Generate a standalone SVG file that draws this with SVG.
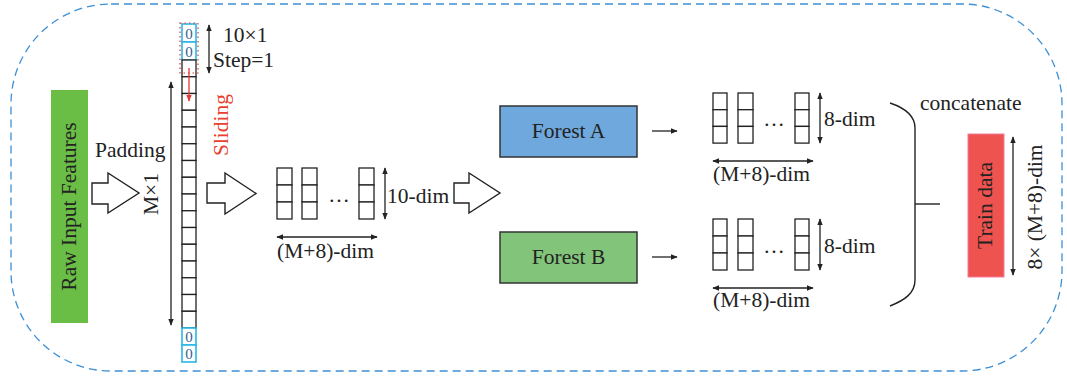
<svg xmlns="http://www.w3.org/2000/svg" width="1067" height="377" viewBox="0 0 1067 377">
<defs>
<marker id="ah" viewBox="0 0 10 10" refX="9" refY="5" markerWidth="7" markerHeight="7" orient="auto-start-reverse" markerUnits="userSpaceOnUse"><path d="M0,1 L10,5 L0,9 z" fill="#222"/></marker>
<marker id="ahr" viewBox="0 0 10 10" refX="9" refY="5" markerWidth="7" markerHeight="7" orient="auto" markerUnits="userSpaceOnUse"><path d="M0,1 L10,5 L0,9 z" fill="#e53935"/></marker>
<style>
text{font-family:"Liberation Serif","Times New Roman",serif;fill:#222;font-size:21.5px}
.cell{fill:#fff;stroke:#222;stroke-width:1.3}
.zcell{fill:#fff;stroke:#29b6e8;stroke-width:1.6}
.zero{font-size:15px;fill:#2f5f8f;text-anchor:middle}
.dim{stroke:#222;stroke-width:1.3;fill:none;marker-start:url(#ah);marker-end:url(#ah)}
.blk{fill:#fff;stroke:#222;stroke-width:1.4}
.box{stroke:#333;stroke-width:1.5}
</style>
</defs>
<rect x="11" y="4" width="1051" height="367" rx="100" ry="100" fill="none" stroke="#3d8fd6" stroke-width="1.3" stroke-dasharray="8 5"/>

<g id="raw-input">
<rect x="51" y="90" width="37" height="233" fill="#6abd45"/>
<text transform="translate(76,206.5) rotate(-90)" text-anchor="middle">Raw Input Features</text>
</g>

<g id="padding">
<text x="95" y="157">Padding</text>
<polygon class="blk" points="92,183 108,183 108,173 139,193 108,213 108,204 92,204"/>
</g>

<g id="column">
<rect class="zcell" x="182" y="24" width="14" height="18"/>
<rect class="zcell" x="182" y="42" width="14" height="18"/>
<text class="zero" x="189" y="38.5">0</text>
<text class="zero" x="189" y="56.5">0</text>
<rect class="cell" x="182" y="60" width="14" height="16.75"/>
<rect class="cell" x="182" y="76.75" width="14" height="16.75"/>
<rect class="cell" x="182" y="93.5" width="14" height="16.75"/>
<rect class="cell" x="182" y="110.25" width="14" height="16.75"/>
<rect class="cell" x="182" y="127" width="14" height="16.75"/>
<rect class="cell" x="182" y="143.75" width="14" height="16.75"/>
<rect class="cell" x="182" y="160.5" width="14" height="16.75"/>
<rect class="cell" x="182" y="177.25" width="14" height="16.75"/>
<rect class="cell" x="182" y="194" width="14" height="16.75"/>
<rect class="cell" x="182" y="210.75" width="14" height="16.75"/>
<rect class="cell" x="182" y="227.5" width="14" height="16.75"/>
<rect class="cell" x="182" y="244.25" width="14" height="16.75"/>
<rect class="cell" x="182" y="261" width="14" height="16.75"/>
<rect class="cell" x="182" y="277.75" width="14" height="16.75"/>
<rect class="cell" x="182" y="294.5" width="14" height="16.75"/>
<rect class="cell" x="182" y="311.25" width="14" height="16.75"/>
<rect class="zcell" x="182" y="328" width="14" height="17"/>
<rect class="zcell" x="182" y="345" width="14" height="17"/>
<text class="zero" x="189" y="342">0</text>
<text class="zero" x="189" y="359">0</text>
<rect x="180" y="23" width="18" height="50" fill="none" stroke="#e53935" stroke-width="1.2" stroke-dasharray="1.5 3"/>
<line x1="189" y1="68" x2="189" y2="101" stroke="#e53935" stroke-width="1.3" marker-end="url(#ahr)"/>
<line class="dim" x1="171" y1="82" x2="171" y2="325"/>
<text transform="translate(158,194) rotate(-90)" text-anchor="middle">M×1</text>
<line class="dim" x1="209" y1="25" x2="209" y2="73"/>
<text x="223" y="42">10×1</text>
<text x="213" y="67">Step=1</text>
<text transform="translate(228,125) rotate(-90)" text-anchor="middle" style="fill:#e8402e">Sliding</text>
</g>

<g id="window-matrix">
<polygon class="blk" points="207,183 225,183 225,173 256,193.5 225,214 225,203 207,203"/>
<rect class="cell" x="277" y="168" width="15" height="17"/>
<rect class="cell" x="277" y="185" width="15" height="17"/>
<rect class="cell" x="277" y="202" width="15" height="17"/>
<rect class="cell" x="302" y="168" width="15" height="17"/>
<rect class="cell" x="302" y="185" width="15" height="17"/>
<rect class="cell" x="302" y="202" width="15" height="17"/>
<rect class="cell" x="359" y="168" width="15" height="17"/>
<rect class="cell" x="359" y="185" width="15" height="17"/>
<rect class="cell" x="359" y="202" width="15" height="17"/>
<text x="339" y="202" text-anchor="middle">…</text>
<line class="dim" x1="385" y1="168" x2="385" y2="219"/>
<text x="387" y="203">10-dim</text>
<line class="dim" x1="277" y1="237" x2="377" y2="237"/>
<text x="277" y="258">(M+8)-dim</text>
<polygon class="blk" points="454,183 469,183 469,173 500,193 469,213 469,203 454,203"/>
</g>

<g id="forest-a">
<rect class="box" x="500" y="106" width="137" height="51" fill="#6fa8dc"/>
<text x="568.5" y="138" text-anchor="middle">Forest A</text>
</g>
<g id="forest-b">
<rect class="box" x="500" y="232" width="137" height="51" fill="#82c57a"/>
<text x="568.5" y="264" text-anchor="middle">Forest B</text>
</g>

<g id="connectors">
<line x1="652" y1="131" x2="677" y2="131" stroke="#222" stroke-width="1.3" marker-end="url(#ah)"/>
<line x1="652" y1="257" x2="677" y2="257" stroke="#222" stroke-width="1.3" marker-end="url(#ah)"/>
<path d="M890,103 C905,108 915,115 915,128 L915,280 C915,293 905,300 890,306" fill="none" stroke="#222" stroke-width="1.4"/>
<line x1="915" y1="204" x2="940" y2="204" stroke="#222" stroke-width="1.4"/>
</g>

<g id="output-a">
<rect class="cell" x="713" y="93" width="14" height="16.7"/>
<rect class="cell" x="713" y="109.7" width="14" height="16.7"/>
<rect class="cell" x="713" y="126.4" width="14" height="16.7"/>
<rect class="cell" x="738" y="93" width="15" height="16.7"/>
<rect class="cell" x="738" y="109.7" width="15" height="16.7"/>
<rect class="cell" x="738" y="126.4" width="15" height="16.7"/>
<rect class="cell" x="795" y="93" width="14" height="16.7"/>
<rect class="cell" x="795" y="109.7" width="14" height="16.7"/>
<rect class="cell" x="795" y="126.4" width="14" height="16.7"/>
<text x="774" y="126" text-anchor="middle">…</text>
<line class="dim" x1="820" y1="93" x2="820" y2="143"/>
<text x="824" y="126">8-dim</text>
<line class="dim" x1="713" y1="161" x2="813" y2="161"/>
<text x="713" y="181">(M+8)-dim</text>
</g>

<g id="output-b">
<rect class="cell" x="713" y="219" width="14" height="17"/>
<rect class="cell" x="713" y="236" width="14" height="17"/>
<rect class="cell" x="713" y="253" width="14" height="17"/>
<rect class="cell" x="738" y="219" width="15" height="17"/>
<rect class="cell" x="738" y="236" width="15" height="17"/>
<rect class="cell" x="738" y="253" width="15" height="17"/>
<rect class="cell" x="795" y="219" width="14" height="17"/>
<rect class="cell" x="795" y="236" width="14" height="17"/>
<rect class="cell" x="795" y="253" width="14" height="17"/>
<text x="774" y="253" text-anchor="middle">…</text>
<line class="dim" x1="820" y1="219" x2="820" y2="270"/>
<text x="824" y="253">8-dim</text>
<line class="dim" x1="713" y1="288" x2="813" y2="288"/>
<text x="713" y="307">(M+8)-dim</text>
</g>

<g id="concatenate">
<text x="920" y="110">concatenate</text>
</g>

<g id="train-data">
<rect x="968" y="134" width="36" height="143" fill="#ef5350" stroke="#f47a9a" stroke-width="1"/>
<text transform="translate(992,205.5) rotate(-90)" text-anchor="middle">Train data</text>
<line class="dim" x1="1013" y1="137" x2="1013" y2="275"/>
<text transform="translate(1042,207) rotate(-90)" text-anchor="middle">8× (M+8)-dim</text>
</g>
</svg>
